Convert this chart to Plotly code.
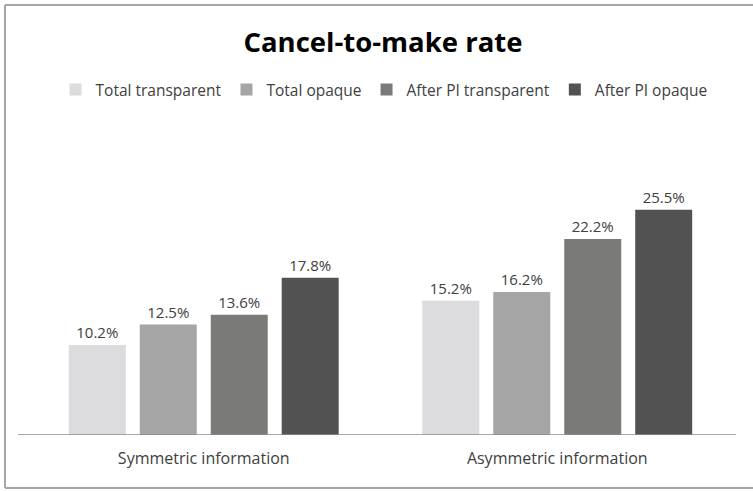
import plotly.graph_objects as go

categories = ["Symmetric information", "Asymmetric information"]
series_names = ["Total transparent", "Total opaque", "After PI transparent", "After PI opaque"]
total_transparent = [0.102, 0.152]
total_opaque = [0.125, 0.162]
after_pi_transparent = [0.136, 0.222]
after_pi_opaque = [0.178, 0.255]
colors = ["#dcdbdd", "#a5a5a5", "#7a7b78", "#525252"]

fig = go.Figure()
for name, vals, col in zip(series_names,
                           [total_transparent, total_opaque, after_pi_transparent, after_pi_opaque],
                           colors):
    fig.add_trace(go.Bar(
        x=categories, y=vals, name=name,
        marker=dict(color=col, line=dict(width=0)),
        texttemplate="%{y:.1%}", textposition="outside",
        textfont=dict(size=15, color="#404040"),
        cliponaxis=False,
    ))

# chart frame: left, top and bottom edges (right edge falls outside the picture)
frame = dict(xref="paper", yref="paper", type="line", line=dict(color="#a6a6a6", width=2))

fig.update_layout(
    width=753, height=491,
    margin=dict(l=27, r=19, t=170, b=56, autoexpand=False),
    paper_bgcolor="white", plot_bgcolor="white",
    font=dict(family="Open Sans", size=15, color="#404040"),
    title=dict(text="<b>Cancel-to-make rate</b>", x=0.5086, xanchor="center",
               y=0.9145, yanchor="middle",
               font=dict(size=27.5, color="black", family="Open Sans")),
    barmode="group", bargap=0.197, bargroupgap=0.197,
    showlegend=True,
    legend=dict(orientation="h", x=0.505, xanchor="center", y=1.302, yanchor="middle",
                font=dict(size=15.5, color="#404040"), itemwidth=30,
                traceorder="normal"),
    xaxis=dict(showline=False, ticks="", showgrid=False,
               tickfont=dict(size=16, color="#404040"), ticklabelstandoff=12),
    yaxis=dict(range=[0, 0.30], visible=False, showgrid=False),
    shapes=[
        dict(type="line", xref="paper", yref="y", x0=-0.0127, x1=1.003, y0=0, y1=0,
             line=dict(color="#8c8c8c", width=1.5)),
        dict(frame, x0=-0.0311, x1=-0.0311, y0=-0.2, y1=1.6226),
        dict(frame, x0=-0.0311, x1=1.1, y0=1.6226, y1=1.6226),
        dict(frame, x0=-0.0311, x1=1.1, y0=-0.2, y1=-0.2),
    ],
)

# drop the default page margin so the figure sits at the window's corner
fig.write_html("out.html", config={"displayModeBar": False},
               post_script="document.body.style.margin='0';")
